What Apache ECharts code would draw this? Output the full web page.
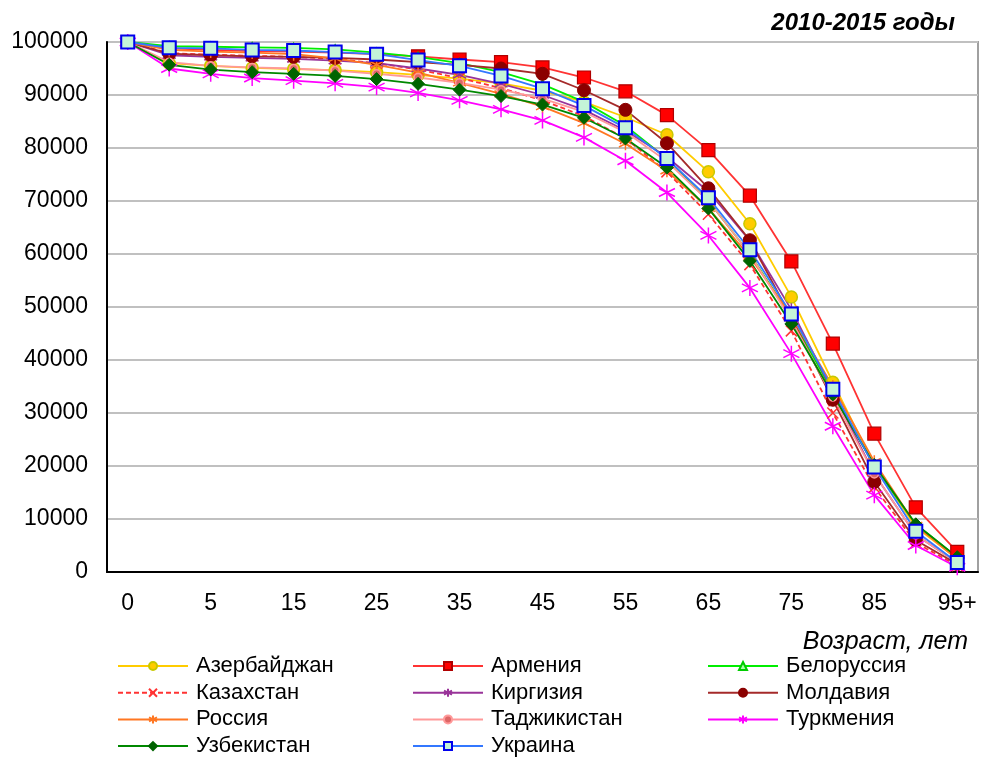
<!DOCTYPE html>
<html><head><meta charset="utf-8">
<script src="https://cdn.jsdelivr.net/npm/echarts@6/dist/echarts.min.js"></script>
<style>html,body{margin:0;padding:0;background:#fff}#c{width:982px;height:758px}</style>
</head><body><div id="c"></div>
<script>
const ages = ['0','1','5','10','15','20','25','30','35','40','45','50','55','60','65','70','75','80','85','90','95+'];
const yTicks = [0,10000,20000,30000,40000,50000,60000,70000,80000,90000,100000];
const azerbaijan = [100000,96000,95500,95100,94900,94700,94300,93800,93100,92200,90800,88700,85800,82500,75500,65700,51900,35800,20000,8500,2500];
const armenia    = [100000,98800,98500,98300,98200,98000,97700,97300,96700,96200,95200,93300,90700,86200,79600,71000,58600,43100,26100,12200,3800];
const belarus    = [100000,99200,99100,99000,98900,98600,98000,97200,96000,94300,92000,88700,84200,78000,70000,60000,48000,34000,20000,9000,2800];
const kazakhstan = [100000,97900,97600,97400,97200,96800,96000,94800,93200,91300,89000,86000,81800,75500,67500,58000,45500,30000,16000,5500,1200];
const kyrgyzstan = [100000,97500,97200,97000,96800,96500,96000,95000,93800,92100,90000,87200,83300,78300,71800,62500,49500,34000,18500,7000,1800];
const moldova    = [100000,97800,97500,97300,97200,97000,96700,96200,95700,95000,94000,90900,87200,80900,72400,62600,48000,32500,17000,6000,1500];
const russia     = [100000,98500,98200,98000,97700,96900,95700,94200,92300,90200,87800,84700,80800,75700,68600,59500,48300,35000,20800,8800,2400];
const tajikistan = [100000,96200,95500,95200,95000,94600,94000,93300,92300,91000,89300,86800,83000,77500,70000,60000,47500,33000,18500,7000,1800];
const turkmenia  = [100000,95000,94000,93200,92700,92200,91500,90400,89000,87300,85200,82000,77600,71600,63500,53600,41200,27500,14500,5000,900];
const uzbekistan = [100000,95700,94800,94300,94000,93600,93000,92100,91000,89800,88200,85700,81800,76300,68600,58700,46800,33500,20200,9000,2800];
const ukraine    = [100000,98900,98800,98500,98400,98100,97700,96600,95500,93600,91200,88000,83800,78000,70600,60800,48700,34500,19800,7700,1800];

const ASTER = 'path://M0,-10L0,10M-8.66,-5L8.66,5M-8.66,5L8.66,-5';
const CROSS = 'path://M-7,-7L7,7M-7,7L7,-7';

function mk(name, data, lineColor, symbol, size, fill, border, bw, dashed){
  return {
    name, type:'line', data, symbol, symbolSize:size, showSymbol:true,
    lineStyle:{color:lineColor, width:1.8, type: dashed ? [5,3] : 'solid'},
    itemStyle:{color:fill, borderColor:border, borderWidth:bw},
    emphasis:{disabled:true}, animation:false
  };
}
const series = [
  mk('Азербайджан', azerbaijan, '#ffcc00', 'circle', 12, '#ffcc00', '#c8c800', 1.5),
  mk('Армения', armenia, '#ff3333', 'rect', 13, '#ff0000', '#b00000', 1.2),
  mk('Белоруссия', belarus, '#00ee00', 'triangle', 9, '#aaffaa', '#00cc00', 1.5),
  mk('Казахстан', kazakhstan, '#ff3333', CROSS, 11, 'none', '#ff3333', 1.5, true),
  mk('Киргизия', kyrgyzstan, '#993399', ASTER, 13, 'none', '#993399', 1.5),
  mk('Молдавия', moldova, '#a52a2a', 'circle', 13, '#8b0000', '#8b0000', 1),
  mk('Россия', russia, '#ff7722', ASTER, 13, 'none', '#ff7722', 1.5),
  mk('Таджикистан', tajikistan, '#ff9999', 'circle', 8, '#dd6666', '#ff9999', 1.5),
  mk('Туркмения', turkmenia, '#ff00ff', ASTER, 16, 'none', '#ff00ff', 1.5),
  mk('Узбекистан', uzbekistan, '#008800', 'diamond', 13, '#006400', '#006400', 1),
  mk('Украина', ukraine, '#3377ff', 'rect', 13, '#c4f4d8', '#0000ee', 2)
];
const lg = (names, left) => ({
  data:names, orient:'vertical', left, top:655, height:103, padding:0,
  itemWidth:70, itemHeight:10, itemGap:4.7,
  textStyle:{fontFamily:'Liberation Sans', fontSize:22, color:'#000', padding:[0,0,0,3]},
  selectedMode:false
});
const chart = echarts.init(document.getElementById('c'), null, {renderer:'canvas'});
chart.setOption({
  animation:false,
  backgroundColor:'#fff',
  title:{text:'2010-2015 годы', right:27, top:11, padding:0,
    textStyle:{fontFamily:'Liberation Sans', fontSize:24, fontWeight:'bold', fontStyle:'italic', color:'#000'}},
  grid:{left:107, right:4, top:42, bottom:186, show:true, borderColor:'#a0a0a0', borderWidth:2, backgroundColor:'transparent'},
  legend:[
    lg(['Азербайджан','Казахстан','Россия','Узбекистан'], 117),
    lg(['Армения','Киргизия','Таджикистан','Украина'], 412),
    lg(['Белоруссия','Молдавия','Туркмения'], 707)
  ],
  xAxis:{type:'category', data:ages, boundaryGap:true,
    name:'Возраст, лет', nameLocation:'end', nameGap:0,
    nameTextStyle:{fontFamily:'Liberation Sans', fontSize:25, fontStyle:'italic', color:'#000', align:'right', verticalAlign:'top', padding:[58,10,0,0]},
    axisLine:{lineStyle:{color:'#000', width:2}}, axisTick:{show:false},
    axisLabel:{interval:1, fontFamily:'Liberation Sans', fontSize:23, color:'#000', margin:20},
    splitLine:{show:false}},
  yAxis:{type:'value', min:0, max:100000, interval:10000,
    axisLine:{show:true, lineStyle:{color:'#000', width:2}}, axisTick:{show:false},
    axisLabel:{fontFamily:'Liberation Sans', fontSize:23, color:'#000', margin:19, formatter:v => String(v)},
    splitLine:{lineStyle:{color:'#c0c0c0', width:2}}},
  series
});
</script></body></html>
